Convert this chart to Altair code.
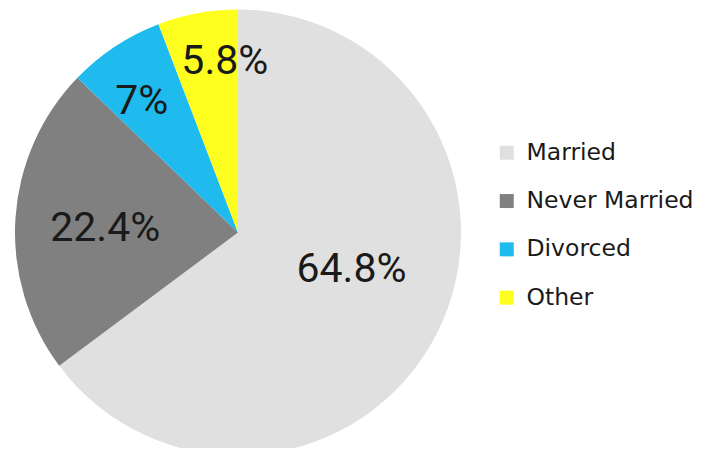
import altair as alt
import pandas as pd

categories = ["Married", "Never Married", "Divorced", "Other"]
values = [64.8, 22.4, 7.0, 5.8]
labels = ["64.8%", "22.4%", "7%", "5.8%"]
colors = ["#E0E0E0", "#808080", "#1FBBEE", "#FFFF1F"]

df = pd.DataFrame({
    "category": categories,
    "value": values,
    "label": labels,
    "order": list(range(len(categories))),
})

CX, CY, R = 230, 224.5, 223

base = alt.Chart(df).encode(
    theta=alt.Theta("value:Q", stack=True),
    order=alt.Order("order:Q"),
)

pie = base.mark_arc(outerRadius=R, stroke=None).encode(
    x=alt.value(CX),
    y=alt.value(CY),
    color=alt.Color(
        "category:N",
        scale=alt.Scale(domain=categories, range=colors),
        sort=categories,
        legend=alt.Legend(
            title=None,
            orient="none",
            legendX=487,
            legendY=133,
            symbolType="square",
            symbolSize=196,
            symbolStrokeWidth=0,
            labelFont="DejaVu Sans",
            labelFontSize=23.5,
            labelColor="#1a1a1a",
            rowPadding=23.3,
            labelOffset=8,
            labelLimit=300,
        ),
    ),
)

label_style = {
    "Married": dict(radius=127, dx=0, dy=-19),
    "Never Married": dict(radius=133, dx=0, dy=5),
    "Divorced": dict(radius=160, dx=-8, dy=3),
    "Other": dict(radius=172, dx=18, dy=-1),
}

text_layers = []
for cat in categories:
    st = label_style[cat]
    t = base.mark_text(
        font="Roboto",
        fontSize=41,
        color="#1a1a1a",
        radius=st["radius"],
        dx=st["dx"],
        dy=st["dy"],
        baseline="middle",
        align="center",
    ).encode(
        x=alt.value(CX),
        y=alt.value(CY),
        text="label:N",
        opacity=alt.condition(f"datum.category == '{cat}'", alt.value(1), alt.value(0)),
    )
    text_layers.append(t)

chart = alt.layer(pie, *text_layers).properties(
    width=710,
    height=440,
    autosize=alt.AutoSizeParams(type="none"),
    padding=0,
).configure_view(stroke=None)

chart.save("out.html", embed_options={"renderer": "svg", "actions": False})
